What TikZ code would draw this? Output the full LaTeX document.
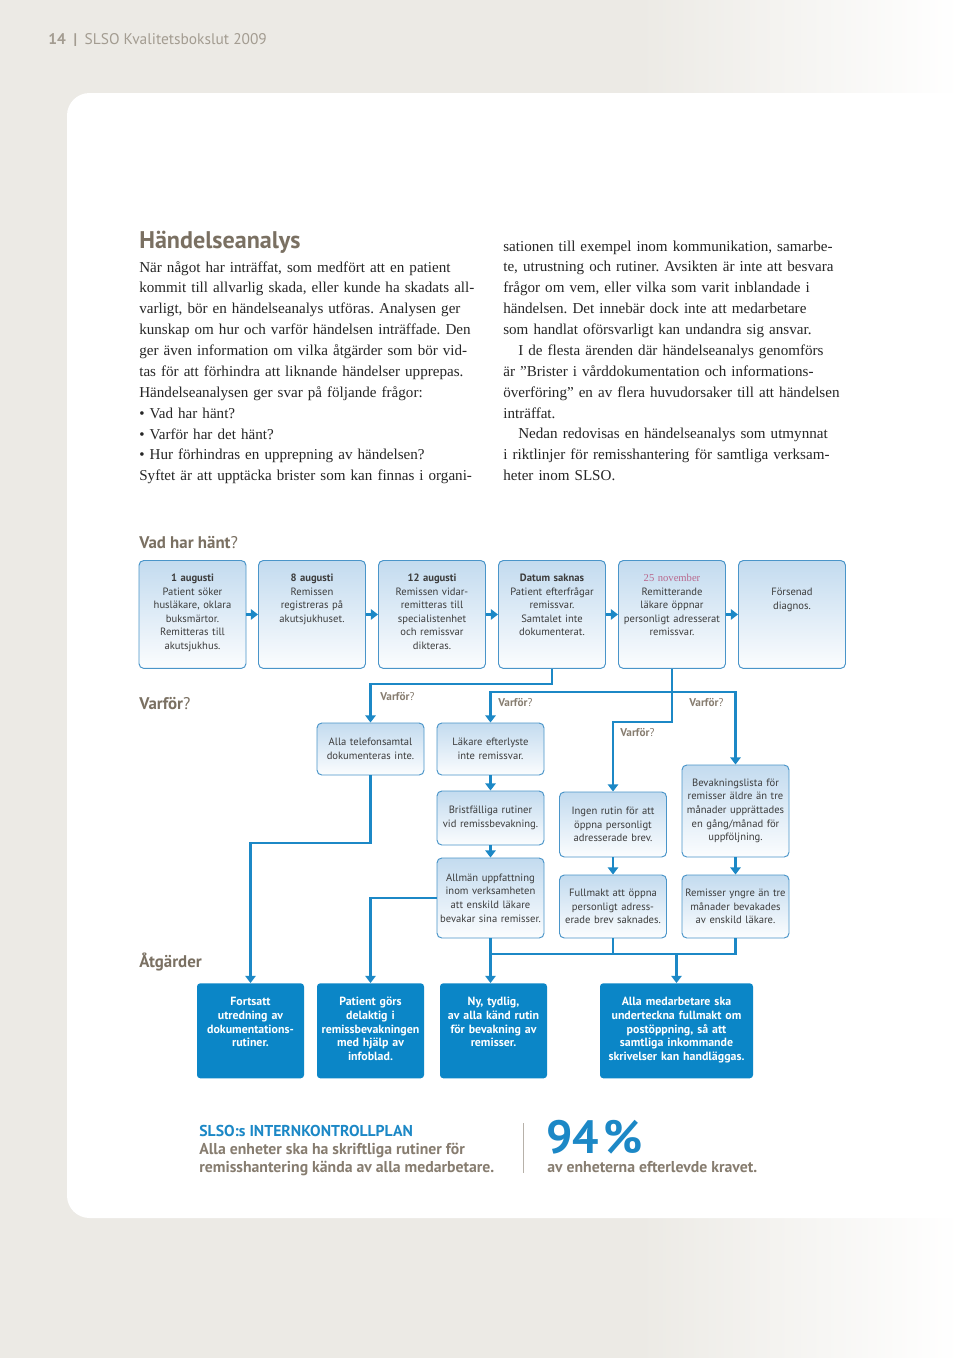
\documentclass[tikz,border=0pt]{standalone}
\usepackage{fontspec}
\setmainfont{Liberation Serif}
\setsansfont{PT Sans}
\usetikzlibrary{arrows.meta}
\newlength\pu
\setlength\pu{0.021875cm}
\frenchspacing
\definecolor{bggray}{HTML}{ECEAE5}
\definecolor{headgray}{HTML}{A39C91}
\definecolor{titlebrown}{HTML}{7A7062}
\definecolor{lineblue}{HTML}{1C88C6}
\definecolor{actblue}{HTML}{0B86C7}
\definecolor{edgeblue}{HTML}{4A95C9}
\definecolor{topblue}{HTML}{C3DBEF}
\definecolor{boxtext}{HTML}{3C3C3C}
\definecolor{notegray}{HTML}{877D70}
\definecolor{datepink}{HTML}{B9688D}
\tikzset{
  evbox/.style={draw=edgeblue,line width=0.6pt,rounded corners=3pt,top color=topblue,bottom color=white!94!topblue,
    minimum width=107\pu,text width=104\pu,inner xsep=1.5\pu,inner ysep=0pt,align=center,
    font=\sffamily\fontsize{6.6}{8.5}\selectfont,text=boxtext},
  eventbox/.style={evbox,text height=13pt,text depth=54.2pt},
  causebox/.style={evbox,inner ysep=2pt},
  actbox/.style={fill=actblue,rounded corners=2pt,minimum width=107\pu,text width=104\pu,inner xsep=1.5\pu,inner ysep=0pt,
    align=center,font=\sffamily\bfseries\fontsize{7.4}{8.5}\selectfont,text=white,text height=14pt,text depth=45.1pt},
  conn/.style={lineblue,line width=1.5pt},
  arr/.style={conn,-{Triangle[length=4.5pt,width=6.5pt]}},
  why/.style={anchor=base west,inner sep=0pt,font=\sffamily\fontsize{7}{8}\selectfont,text=notegray},
  section/.style={anchor=base west,inner sep=0pt,font=\sffamily\fontsize{10.5}{12}\selectfont,text=titlebrown},
  bodytext/.style={anchor=base west,inner sep=0pt,text width=420\pu,align=left,font=\fontsize{9.4}{13}\selectfont,text=black!85},
  bottomtext/.style={anchor=base west,inner sep=0pt,align=left,font=\sffamily\bfseries\fontsize{9.8}{10.9}\selectfont,text=notegray}
}
\begin{document}
\begin{tikzpicture}[x=1\pu,y=-1\pu]
\useasboundingbox (0,0) rectangle (960,1358);
\fill[bggray] (0,0) rectangle (960,1358);
\shade[left color=bggray,right color=white] (640,0) rectangle (960,1358);
\fill[white,rounded corners=14pt] (67,93) rectangle (1010,1218);

\node[anchor=base west,inner sep=0pt,font=\sffamily\fontsize{9.6}{10}\selectfont,text=headgray] (head) at (48,44) {\textbf{14}\enspace\textbf{|}\enspace SLSO Kvalitetsbokslut 2009};
\node[anchor=base west,inner sep=0pt,font=\sffamily\bfseries\fontsize{15}{16}\selectfont,text=titlebrown] (title) at (139,248) {Händelseanalys};

\node[bodytext] (col1) at (139,272) {När något har inträffat, som medfört att en patient\\
kommit till allvarlig skada, eller kunde ha skadats all-\\
varligt, bör en händelseanalys utföras. Analysen ger\\
kunskap om hur och varför händelsen inträffade. Den\\
ger även information om vilka åtgärder som bör vid-\\
tas för att förhindra att liknande händelser upprepas.\\
Händelseanalysen ger svar på följande frågor:\\
• Vad har hänt?\\
• Varför har det hänt?\\
• Hur förhindras en upprepning av händelsen?\\
Syftet är att upptäcka brister som kan finnas i organi-};
\node[bodytext] (col2) at (503,251) {sationen till exempel inom kommunikation, samarbe-\\
te, utrustning och rutiner. Avsikten är inte att besvara\\
frågor om vem, eller vilka som varit inblandade i\\
händelsen. Det innebär dock inte att medarbetare\\
som handlat oförsvarligt kan undandra sig ansvar.\\
\hspace*{15\pu}I de flesta ärenden där händelseanalys genomförs\\
är ”Brister i vårddokumentation och informations-\\
överföring” en av flera huvudorsaker till att händelsen\\
inträffat.\\
\hspace*{15\pu}Nedan redovisas en händelseanalys som utmynnat\\
i riktlinjer för remisshantering för samtliga verksam-\\
heter inom SLSO.};

\node[section] (what) at (139,548) {\textbf{Vad har hänt}?};
\node[section] (whyhead) at (139,709) {\textbf{Varför}?};
\node[section] (todo) at (139,967) {\textbf{Åtgärder}};

\node[eventbox,anchor=north] (b1) at (192.5,560) {{\bfseries 1 augusti}\\Patient söker\\husläkare, oklara\\buksmärtor.\\Remitteras till\\akutsjukhus.};
\node[eventbox,anchor=north] (b2) at (312,560) {{\bfseries 8 augusti}\\Remissen\\registreras på\\akutsjukhuset.};
\node[eventbox,anchor=north] (b3) at (432,560) {{\bfseries 12 augusti}\\Remissen vidar-\\remitteras till\\specialistenhet\\och remissvar\\dikteras.};
\node[eventbox,anchor=north] (b4) at (552,560) {{\bfseries Datum saknas}\\Patient efterfrågar\\remissvar.\\Samtalet inte\\dokumenterat.};
\node[eventbox,anchor=north] (b5) at (672,560) {{\rmfamily\color{datepink}25 november}\\Remitterande\\läkare öppnar\\personligt adresserat\\remissvar.};
\node[eventbox,anchor=north,text height=21.8pt,text depth=45.4pt] (b6) at (792,560) {Försenad\\diagnos.};
\draw[arr] (b1.east) -- (b2.west);
\draw[arr] (b2.east) -- (b3.west);
\draw[arr] (b3.east) -- (b4.west);
\draw[arr] (b4.east) -- (b5.west);
\draw[arr] (b5.east) -- (b6.west);

\node[causebox,minimum height=52\pu] (a1) at (370.5,749) {Alla telefonsamtal\\dokumenteras inte.};
\node[causebox,minimum height=52\pu] (a2) at (490.5,749) {Läkare efterlyste\\inte remissvar.};
\node[causebox,minimum height=54\pu] (c1) at (490.5,818) {Bristfälliga rutiner\\vid remissbevakning.};
\node[causebox,minimum height=80\pu] (c2) at (490.5,898) {Allmän uppfattning\\inom verksamheten\\att enskild läkare\\bevakar sina remisser.};
\node[causebox,minimum height=65\pu] (d1) at (613,824.5) {Ingen rutin för att\\öppna personligt\\adresserade brev.};
\node[causebox,minimum height=63\pu] (d2) at (613,906.5) {Fullmakt att öppna\\personligt adress-\\erade brev saknades.};
\node[causebox,minimum height=92\pu] (e1) at (735.5,811) {Bevakningslista för\\remisser äldre än tre\\månader upprättades\\en gång/månad för\\uppföljning.};
\node[causebox,minimum height=63\pu] (e2) at (735.5,906.5) {Remisser yngre än tre\\månader bevakades\\av enskild läkare.};

\coordinate (j1) at (672,692);
\draw[arr] (b4.south) -- (b4.south |- 0,684) -| (a1.north);
\draw[arr] (b5.south) -- (b5.south |- 0,722) -| (d1.north);
\draw[arr] (j1) -| (a2.north);
\draw[arr] (j1) -| (e1.north);
\node[why] (v1) at (380,700) {\textbf{Varför}?};
\node[why] (v2) at (498,706) {\textbf{Varför}?};
\node[why] (v3) at (689,706) {\textbf{Varför}?};
\node[why] (v4) at (620,736) {\textbf{Varför}?};

\draw[arr] (a2.south) -- (c1.north);
\draw[arr] (c1.south) -- (c2.north);
\draw[arr] (d1.south) -- (d2.north);
\draw[arr] (e1.south) -- (e2.north);

\node[actbox,anchor=north] (f1) at (250.5,983) {Fortsatt\\utredning av\\dokumentations-\\rutiner.};
\node[actbox,anchor=north] (f2) at (370.5,983) {Patient görs\\delaktig i\\remissbevakningen\\med hjälp av\\infoblad.};
\node[actbox,anchor=north] (f3) at (493.5,983) {Ny, tydlig,\\av alla känd rutin\\för bevakning av\\remisser.};
\node[actbox,anchor=north,minimum width=153\pu,text width=150\pu] (f4) at (676.5,983) {Alla medarbetare ska\\underteckna fullmakt om\\postöppning, så att\\samtliga inkommande\\skrivelser kan handläggas.};

\coordinate (j2) at (c2.south |- 0,954);
\coordinate (j3) at (e2.south |- 0,954);
\draw[arr] (a1.south) -- (a1.south |- 0,843) -| (f1.north);
\draw[arr] (c2.west) -| (f2.north);
\draw[arr] (c2.south) -- (c2.south |- f3.north);
\draw[conn] (j2) -- (j3) -- (e2.south);
\draw[conn] (d2.south) -- (d2.south |- j2);
\draw[arr] (f4.north |- j2) -- (f4.north);

\node[bottomtext] (plan) at (199,1172) {\textcolor{lineblue}{SLSO:s INTERNKONTROLLPLAN}\\Alla enheter ska ha skriftliga rutiner för\\remisshantering kända av alla medarbetare.};
\draw[notegray!60,line width=0.6pt] (523,1123) -- (523,1173);
\node[anchor=base west,inner sep=0pt,text depth=0pt,font=\sffamily\bfseries\fontsize{29}{29}\selectfont,text=lineblue] (pct) at (546,1153) {94\kern2.5pt\%};
\node[bottomtext] (pcttext) at (547,1172) {av enheterna efterlevde kravet.};
\end{tikzpicture}
\end{document}
